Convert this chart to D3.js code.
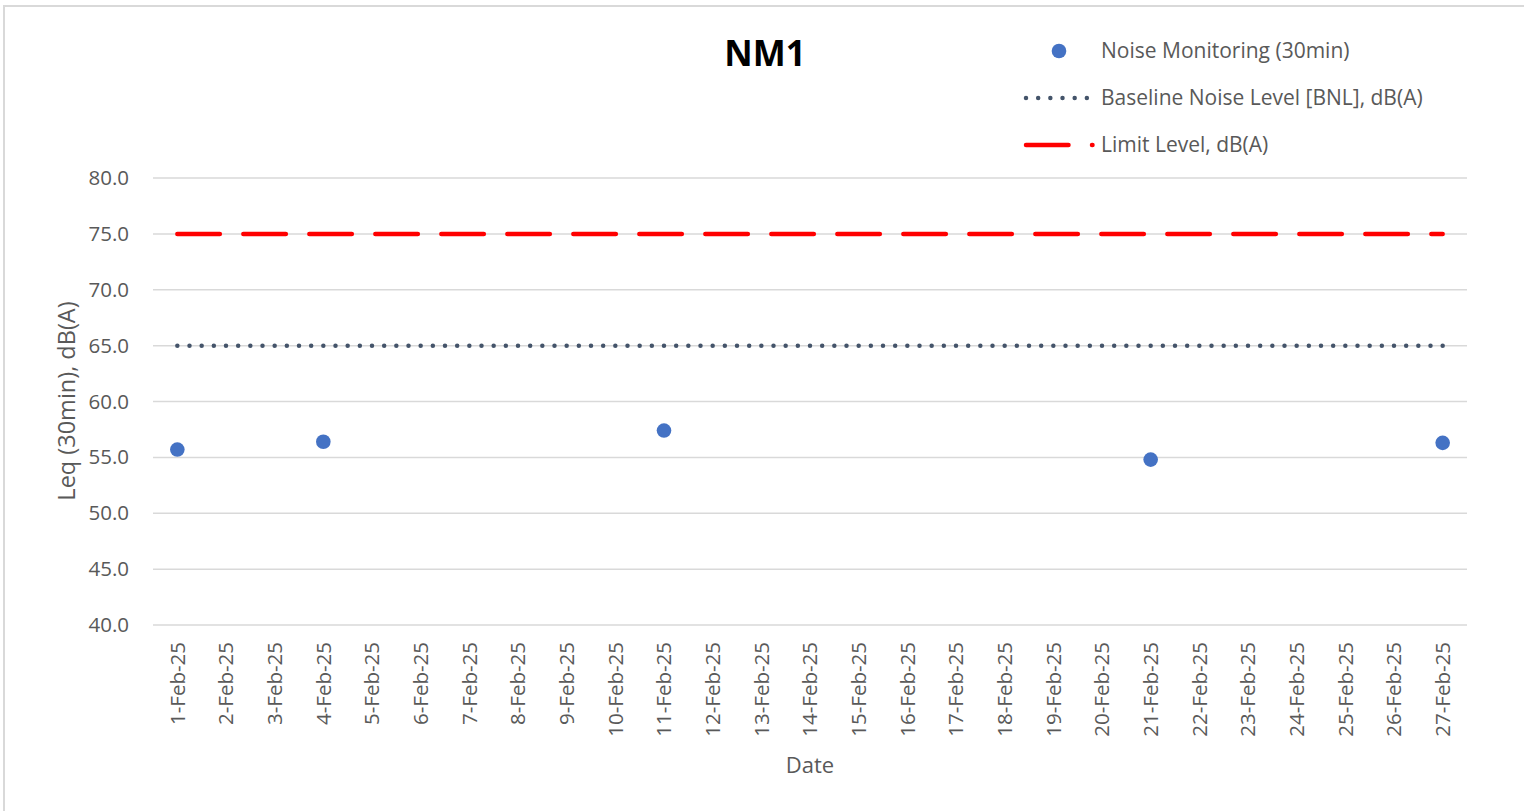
<!DOCTYPE html>
<html>
<head>
<meta charset="utf-8">
<script src="https://cdn.jsdelivr.net/npm/d3@7"></script>
<style>
  html, body { margin: 0; padding: 0; background: #fff; }
  svg { display: block; }
</style>
</head>
<body>
<svg id="chart" width="1524" height="811"></svg>
<script>
// ---- data ----
const dates = ["1-Feb-25","2-Feb-25","3-Feb-25","4-Feb-25","5-Feb-25","6-Feb-25","7-Feb-25","8-Feb-25","9-Feb-25","10-Feb-25","11-Feb-25","12-Feb-25","13-Feb-25","14-Feb-25","15-Feb-25","16-Feb-25","17-Feb-25","18-Feb-25","19-Feb-25","20-Feb-25","21-Feb-25","22-Feb-25","23-Feb-25","24-Feb-25","25-Feb-25","26-Feb-25","27-Feb-25"];
const noiseDates = ["1-Feb-25","4-Feb-25","11-Feb-25","21-Feb-25","27-Feb-25"];
const noiseValues = [55.7, 56.4, 57.4, 54.8, 56.3];
const baselineValues = dates.map(() => 65);
const limitValues = dates.map(() => 75);
const yTicks = [40, 45, 50, 55, 60, 65, 70, 75, 80];
const seriesNames = ["Noise Monitoring (30min)", "Baseline Noise Level [BNL], dB(A)", "Limit Level, dB(A)"];
const chartTitle = "NM1";
const xTitle = "Date";
const yTitle = "Leq (30min), dB(A)";

// ---- layout ----
const svg = d3.select("#chart");
const FONT = "'Open Sans', Lato, sans-serif";
const textColor = "#595959";
const plot = { left: 153, right: 1467, top: 178, bottom: 625 };

// border
svg.append("rect").attr("x", 4).attr("y", 6).attr("width", 1530).attr("height", 820)
  .attr("fill", "none").attr("stroke", "#d9d9d9").attr("stroke-width", 2);

const x = d3.scaleBand().domain(dates).range([plot.left, plot.right]).paddingInner(0).paddingOuter(0);
const cx = d => x(d) + x.bandwidth() / 2;
const y = d3.scaleLinear().domain([40, 80]).range([plot.bottom, plot.top]);
const span = cx(dates[dates.length - 1]) - cx(dates[0]);
const dotGap = span / 104;

// gridlines
svg.append("g").selectAll("line").data(yTicks).join("line")
  .attr("x1", plot.left).attr("x2", plot.right)
  .attr("y1", d => y(d)).attr("y2", d => y(d))
  .attr("stroke", "#d9d9d9").attr("stroke-width", 1.5);

// y axis
const yAxis = svg.append("g").attr("transform", `translate(${plot.left},0)`)
  .call(d3.axisLeft(y).tickValues(yTicks).tickFormat(d3.format(".1f")).tickSize(0).tickPadding(24));
yAxis.select(".domain").remove();
yAxis.selectAll("text").attr("font-family", FONT).attr("font-size", 20.5).attr("fill", textColor);

// x axis
const xAxis = svg.append("g").attr("transform", `translate(0,${plot.bottom})`)
  .call(d3.axisBottom(x).tickSize(0).tickPadding(0));
xAxis.select(".domain").remove();
xAxis.selectAll("text")
  .attr("font-family", FONT).attr("font-size", 20.5).attr("fill", textColor)
  .attr("text-anchor", "end")
  .attr("transform", "rotate(-90)")
  .attr("x", -17).attr("y", 0).attr("dy", "0.35em");

// limit line
const line = d3.line().x((d, i) => cx(dates[i])).y(d => y(d));
svg.append("path").datum(limitValues).attr("d", line)
  .attr("fill", "none").attr("stroke", "#ff0000").attr("stroke-width", 4.5)
  .attr("stroke-linecap", "round").attr("stroke-dasharray", "42.5,23.5");

// baseline line
svg.append("path").datum(baselineValues).attr("d", line)
  .attr("fill", "none").attr("stroke", "#44546a").attr("stroke-width", 4.5)
  .attr("stroke-linecap", "round").attr("stroke-dasharray", `0,${dotGap}`);

// points
svg.append("g").selectAll("circle").data(noiseValues).join("circle")
  .attr("cx", (d, i) => cx(noiseDates[i])).attr("cy", d => y(d)).attr("r", 7.3)
  .attr("fill", "#4472c4");

// title
svg.append("text").attr("x", 765).attr("y", 66).attr("text-anchor", "middle")
  .attr("font-family", FONT).attr("font-weight", "bold").attr("font-size", 35).attr("fill", "#000")
  .text(chartTitle);

// axis titles
svg.append("text").attr("x", 810).attr("y", 773).attr("text-anchor", "middle")
  .attr("font-family", FONT).attr("font-size", 22).attr("fill", textColor).text(xTitle);
svg.append("text").attr("transform", "translate(75,401) rotate(-90)").attr("text-anchor", "middle")
  .attr("font-family", FONT).attr("font-size", 23.5).attr("fill", textColor).text(yTitle);

// legend
const lg = svg.append("g");
const rows = [51, 98, 145];
lg.append("circle").attr("cx", 1059).attr("cy", rows[0]).attr("r", 7.3).attr("fill", "#4472c4");
lg.append("line").attr("x1", 1026).attr("x2", 1088).attr("y1", rows[1]).attr("y2", rows[1])
  .attr("stroke", "#44546a").attr("stroke-width", 4.5).attr("stroke-linecap", "round").attr("stroke-dasharray", "0,12.17");
lg.append("line").attr("x1", 1026).attr("x2", 1092.5).attr("y1", rows[2]).attr("y2", rows[2])
  .attr("stroke", "#ff0000").attr("stroke-width", 4.5).attr("stroke-linecap", "round").attr("stroke-dasharray", "42.5,23.5");
lg.selectAll("text").data(seriesNames).join("text")
  .attr("x", 1101).attr("y", (d, i) => rows[i]).attr("dy", "0.35em")
  .attr("font-family", FONT).attr("font-size", 21).attr("fill", textColor)
  .text(d => d);
</script>
</body>
</html>
